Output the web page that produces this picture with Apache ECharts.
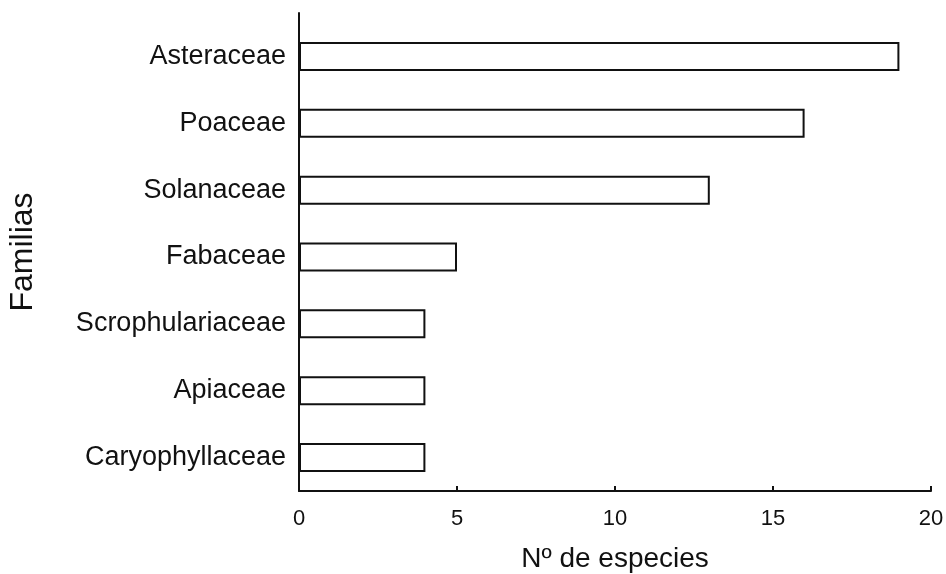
<!DOCTYPE html>
<html>
<head>
<meta charset="utf-8">
<script src="https://cdn.jsdelivr.net/npm/echarts@6/dist/echarts.min.js"></script>
<style>
html,body{margin:0;padding:0;background:#fff;}
#chart{width:946px;height:574px;}
</style>
</head>
<body>
<div id="chart"></div>
<script>
const categories = ['Asteraceae','Poaceae','Solanaceae','Fabaceae','Scrophulariaceae','Apiaceae','Caryophyllaceae'];
const species = [19,16,13,5,4,4,4];
const xTicks = [0,5,10,15,20];

const FONT = '"Liberation Sans", Arial, Helvetica, sans-serif';
const INK = '#111';
const chart = echarts.init(document.getElementById('chart'));
chart.setOption({
  backgroundColor: '#fff',
  animation: false,
  grid: [
    {left: 299, right: 15, top: 13, bottom: 83, containLabel: false, outerBoundsMode: 'none'},
    {left: 299, right: 15, top: 23, bottom: 83, containLabel: false, outerBoundsMode: 'none'}
  ],
  xAxis: [
    {
      gridIndex: 0, type: 'value', min: xTicks[0], max: xTicks[xTicks.length-1], interval: 5,
      axisLine: {show: true, lineStyle: {color: INK, width: 2}},
      axisTick: {show: true, inside: true, length: 5, lineStyle: {color: INK, width: 2}},
      axisLabel: {fontFamily: FONT, fontSize: 22, color: INK, margin: 17},
      splitLine: {show: false},
      name: 'Nº de especies', nameLocation: 'middle', nameGap: 54,
      nameTextStyle: {fontFamily: FONT, fontSize: 28, color: INK}
    },
    {
      gridIndex: 1, type: 'value', min: xTicks[0], max: xTicks[xTicks.length-1], show: false
    }
  ],
  yAxis: [
    {
      gridIndex: 0, type: 'value', min: 0, max: 1,
      axisLine: {show: true, lineStyle: {color: INK, width: 2}},
      axisTick: {show: false}, axisLabel: {show: false}, splitLine: {show: false},
      name: 'Familias', nameLocation: 'middle', nameGap: 260,
      nameTextStyle: {fontFamily: FONT, fontSize: 32, color: INK}
    },
    {
      gridIndex: 1, type: 'category', data: categories, inverse: true,
      axisLine: {show: false}, axisTick: {show: false},
      axisLabel: {fontFamily: FONT, fontSize: 27, color: INK, margin: 13}
    }
  ],
  series: [{
    type: 'bar', xAxisIndex: 1, yAxisIndex: 1,
    data: species, barWidth: 29,
    itemStyle: {color: '#fff', borderColor: INK, borderWidth: 2}
  }]
});
</script>
</body>
</html>
